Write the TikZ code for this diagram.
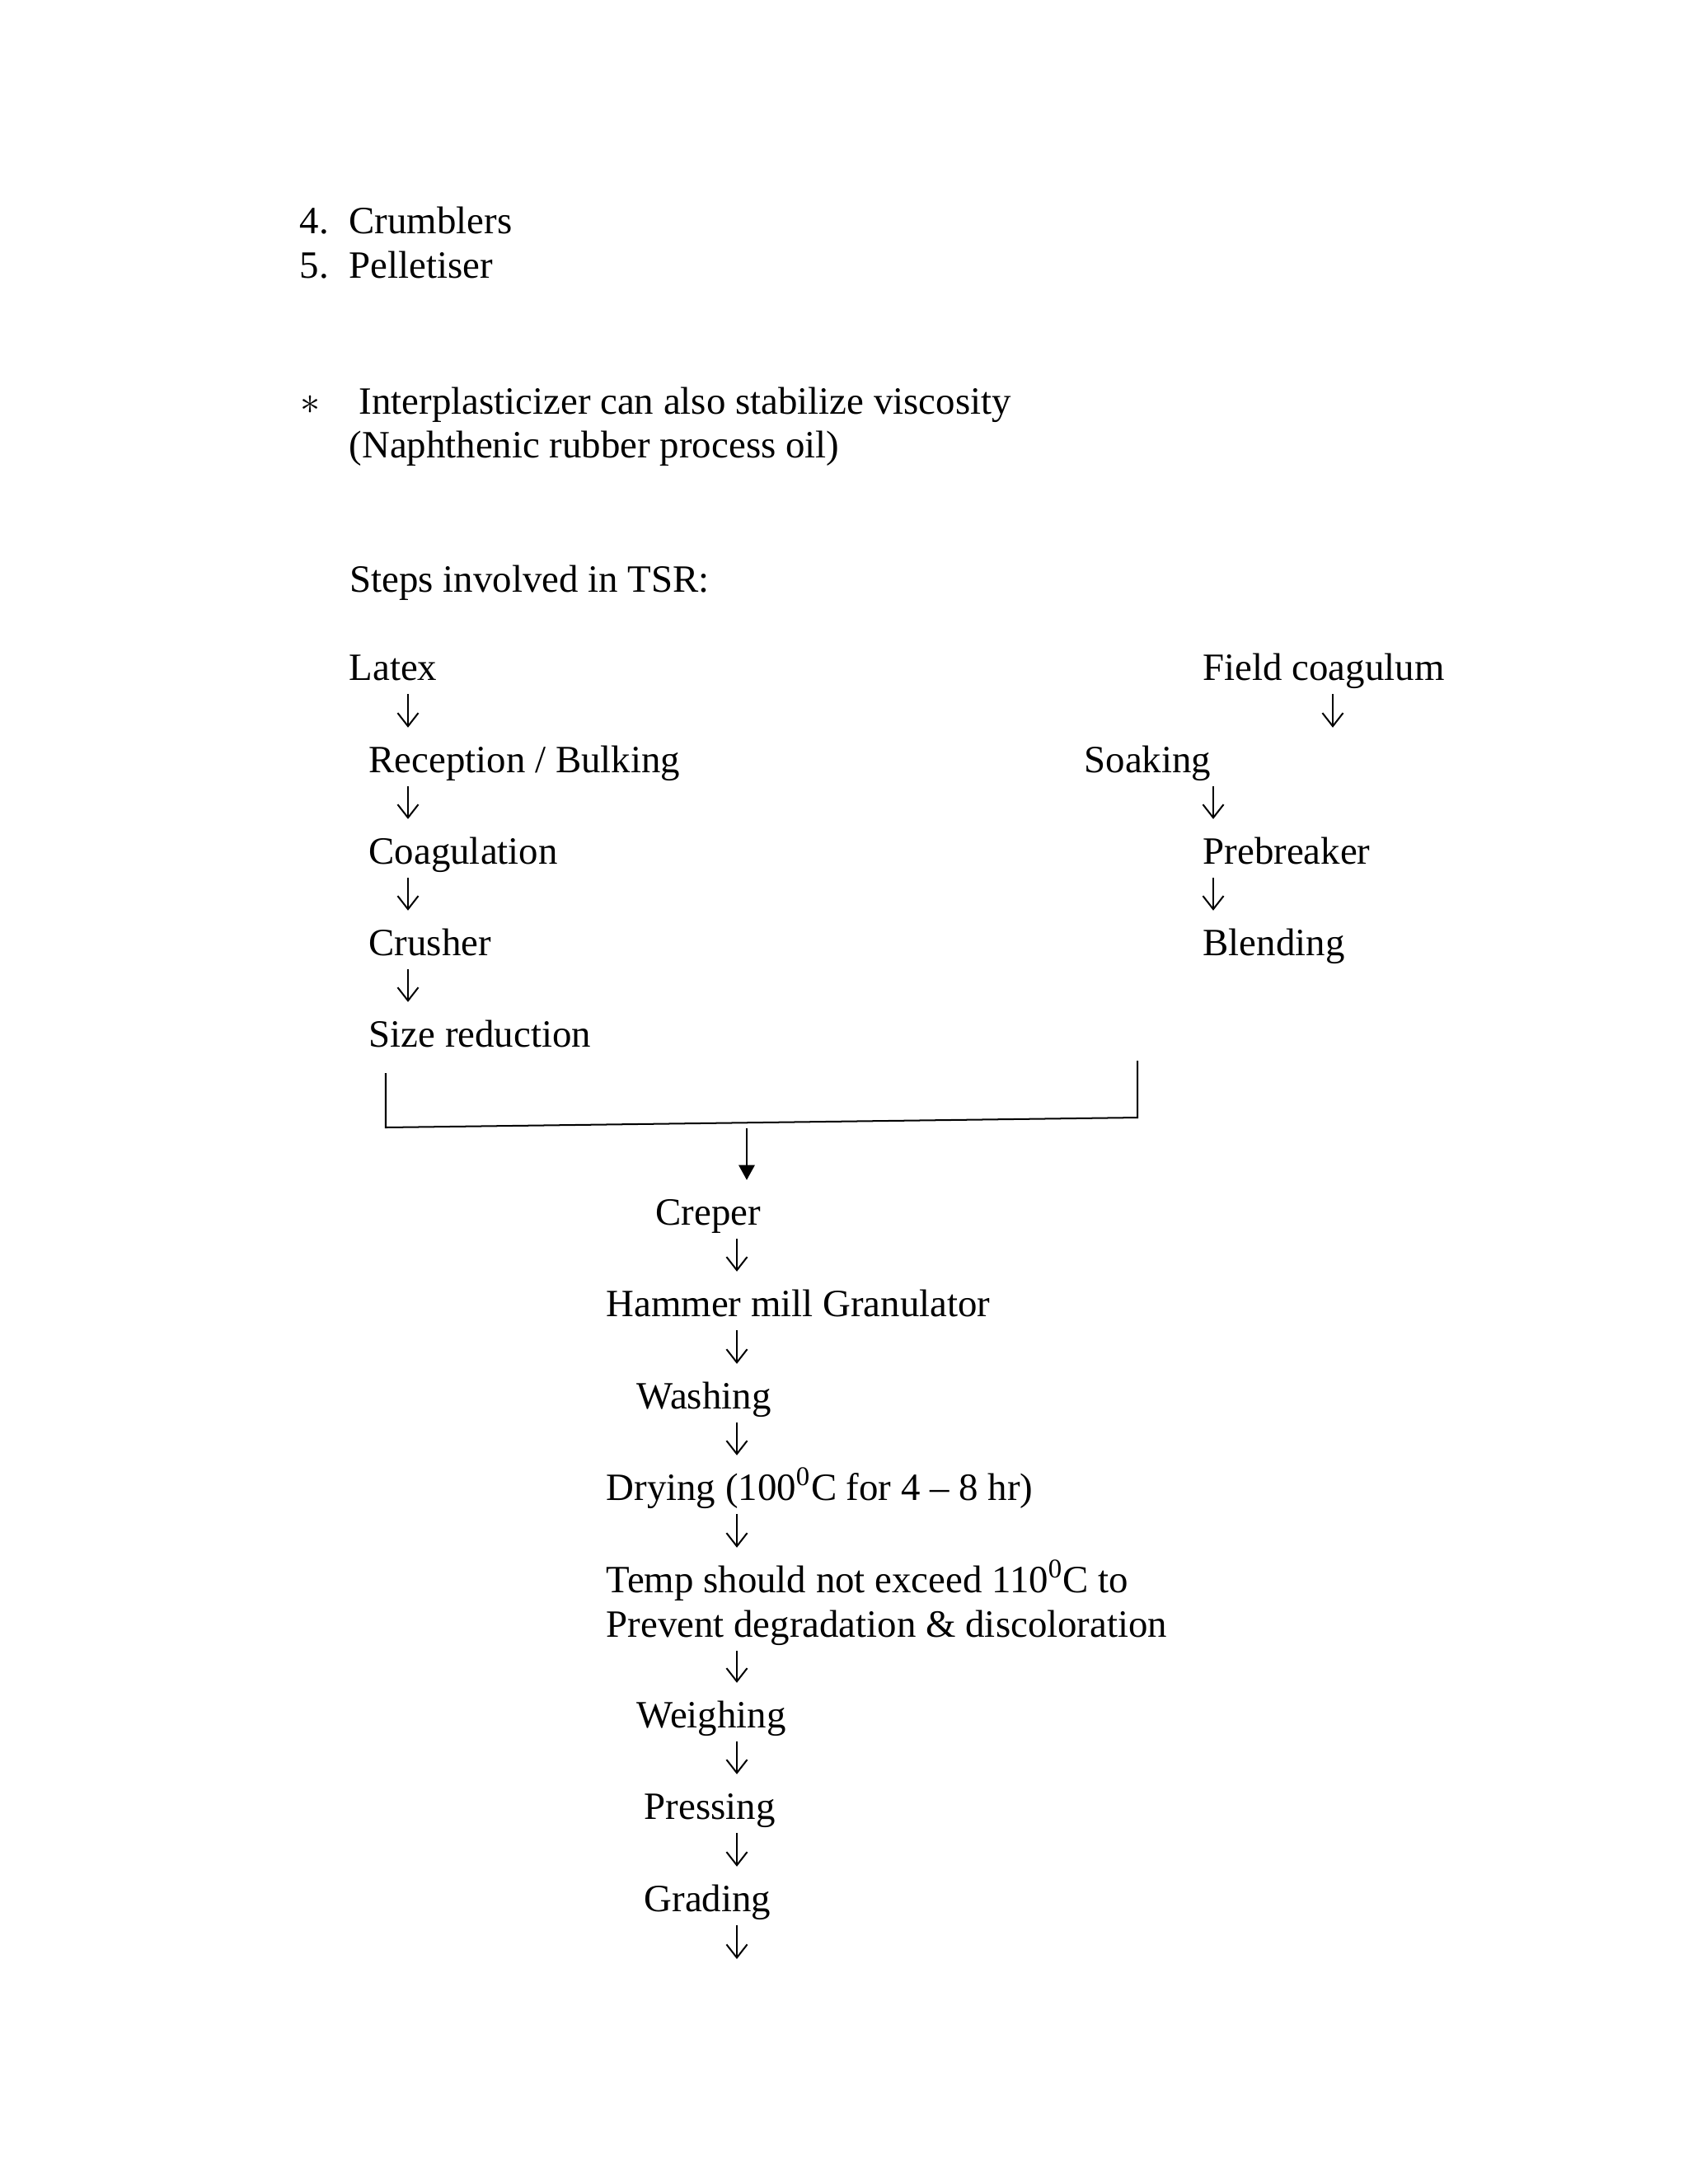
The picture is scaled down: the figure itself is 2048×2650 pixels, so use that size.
\documentclass[tikz,border=0pt]{standalone}
\usepackage{fontspec}
\setmainfont{Liberation Serif}
\usetikzlibrary{arrows.meta}

\tikzset{
  txt/.style={anchor=base west, inner sep=0pt, font=\fontsize{14}{16.1}\selectfont},
  stepnode/.style={txt, text height=16pt, text depth=5pt},
  flow/.style={line width=0.6pt, -{Straight Barb[length=4.8pt,width=7.5pt]}},
  merge/.style={line width=0.8pt, -{Triangle[length=5.4pt,width=5.7pt]}},
}

\begin{document}
\begin{tikzpicture}[x=0.29883pt,y=-0.29883pt]
  \useasboundingbox (0,0) rectangle (2048,2650);
  % list and note
  \node[txt] (num4) at (363,283) {4.};
  \node[txt] (crumb) at (423,283) {Crumblers};
  \node[txt] (num5) at (363,337) {5.};
  \node[txt] (pellet) at (423,337) {Pelletiser};
  \node[txt] (star) at (364,502) {$\ast$};
  \node[txt] (inter) at (435,502) {Interplasticizer can also stabilize viscosity};
  \node[txt] (oil) at (423,555) {(Naphthenic rubber process oil)};
  \node[txt] (steps) at (424,718) {Steps involved in TSR:};
  % latex branch
  \node[stepnode] (latex) at (423,825) {Latex};
  \node[stepnode] (recep) at (447,937) {Reception / Bulking};
  \node[stepnode] (coag) at (447,1048) {Coagulation};
  \node[stepnode] (crush) at (447,1159) {Crusher};
  \node[stepnode] (size) at (447,1270) {Size reduction};
  % field coagulum branch
  \node[stepnode] (field) at (1459,825) {Field coagulum};
  \node[stepnode] (soak) at (1315,937) {Soaking};
  \node[stepnode] (prebr) at (1459,1048) {Prebreaker};
  \node[stepnode] (blend) at (1459,1159) {Blending};
  % common line
  \node[stepnode] (creper) at (795,1486) {Creper};
  \node[stepnode] (hammer) at (735,1597) {Hammer mill Granulator};
  \node[stepnode] (wash) at (772,1709) {Washing};
  \node[stepnode] (dry) at (735,1820) {Drying (100\textsuperscript{0}C for 4 – 8 hr)};
  \node[stepnode] (temp) at (735,1932) {Temp should not exceed 110\textsuperscript{0}C to};
  \node[stepnode] (prevent) at (735,1986) {Prevent degradation \& discoloration};
  \node[stepnode] (weigh) at (772,2096) {Weighing};
  \node[stepnode] (press) at (781,2207) {Pressing};
  \node[stepnode] (grade) at (781,2319) {Grading};

  \coordinate (lx) at (495,0);
  \coordinate (fx) at (1617,0);
  \coordinate (rx) at (1472,0);
  \coordinate (mx) at (894,0);
  \coordinate (last) at (894,2377);

  \draw[flow] (latex.south -| lx) -- (recep.north -| lx);
  \draw[flow] (recep.south -| lx) -- (coag.north -| lx);
  \draw[flow] (coag.south -| lx) -- (crush.north -| lx);
  \draw[flow] (crush.south -| lx) -- (size.north -| lx);

  \draw[flow] (field.south -| fx) -- (soak.north -| fx);
  \draw[flow] (soak.south -| rx) -- (prebr.north -| rx);
  \draw[flow] (prebr.south -| rx) -- (blend.north -| rx);

  % bracket joining both branches
  \coordinate (bl) at (468,1302);
  \coordinate (blb) at (468,1368);
  \coordinate (brb) at (1380,1356);
  \coordinate (br) at (1380,1287);
  \coordinate (jn) at (906,1369);
  \draw[line width=0.6pt] (bl) -- (blb) -- (brb) -- (br);
  \draw[merge] (jn) -- (creper.north -| jn);

  \draw[flow] (creper.south -| mx) -- (hammer.north -| mx);
  \draw[flow] (hammer.south -| mx) -- (wash.north -| mx);
  \draw[flow] (wash.south -| mx) -- (dry.north -| mx);
  \draw[flow] (dry.south -| mx) -- (temp.north -| mx);
  \draw[flow] (prevent.south -| mx) -- (weigh.north -| mx);
  \draw[flow] (weigh.south -| mx) -- (press.north -| mx);
  \draw[flow] (press.south -| mx) -- (grade.north -| mx);
  \draw[flow] (grade.south -| mx) -- (last);
\end{tikzpicture}
\end{document}
